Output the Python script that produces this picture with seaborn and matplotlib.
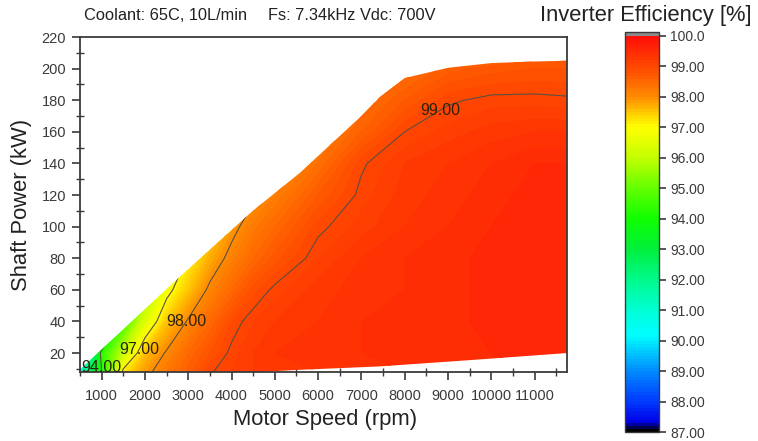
import numpy as np
import matplotlib
matplotlib.use("Agg")
import matplotlib.pyplot as plt
import seaborn as sns
from matplotlib.colors import LinearSegmentedColormap
from matplotlib.patches import Polygon
from matplotlib.ticker import MultipleLocator, FuncFormatter

sns.set_style("ticks")
plt.rcParams["font.family"] = ["Liberation Sans", "DejaVu Sans"]

# grid (rpm x kW), efficiency in %
speed_rpm = [500, 1000, 1500, 2000, 2500, 3000, 3500, 4000, 4500, 5000,
             6000, 7000, 8000, 9000, 10000, 11000, 11750]
power_kw = [8, 20, 40, 60, 80, 100, 120, 140, 160, 180, 200, 210]

eff_8kw = [91.0, 94.0, 97.2, 97.85, 98.3, 98.65, 98.98, 99.1, 99.2, 99.25,
           99.3, 99.35, 99.4, 99.4, 99.45, 99.5, 99.5]
eff_20kw = [89.0, 94.3, 96.0, 97.55, 98.05, 98.5, 98.8, 99.05, 99.2, 99.3,
            99.35, 99.4, 99.45, 99.45, 99.5, 99.55, 99.55]
eff_40kw = [85.0, 91.0, 94.5, 96.4, 97.5, 98.05, 98.5, 98.9, 99.1, 99.2,
            99.3, 99.4, 99.45, 99.45, 99.55, 99.6, 99.6]
eff_60kw = [80.0, 88.0, 92.5, 95.5, 96.8, 97.5, 98.1, 98.5, 98.85, 99.05,
            99.25, 99.35, 99.4, 99.45, 99.55, 99.6, 99.6]
eff_80kw = [75.0, 85.0, 90.0, 93.5, 95.8, 97.1, 97.7, 98.15, 98.5, 98.75,
            99.1, 99.3, 99.4, 99.45, 99.55, 99.6, 99.6]
eff_100kw = [70.0, 80.0, 87.0, 91.0, 94.0, 96.0, 97.2, 97.85, 98.25, 98.5,
             98.95, 99.15, 99.3, 99.4, 99.5, 99.6, 99.6]
eff_120kw = [65.0, 75.0, 82.0, 88.0, 91.0, 94.0, 96.0, 97.3, 97.9, 98.2,
             98.7, 99.05, 99.25, 99.35, 99.45, 99.55, 99.55]
eff_140kw = [60.0, 70.0, 78.0, 84.0, 88.0, 91.0, 94.0, 96.0, 97.3, 97.8,
             98.4, 98.97, 99.2, 99.3, 99.4, 99.5, 99.5]
eff_160kw = [55.0, 65.0, 73.0, 80.0, 85.0, 89.0, 92.0, 94.5, 96.5, 97.5,
             98.2, 98.6, 99.0, 99.15, 99.25, 99.3, 99.3]
eff_180kw = [50.0, 60.0, 68.0, 75.0, 80.0, 85.0, 89.0, 92.0, 94.5, 96.0,
             97.8, 98.4, 98.7, 98.97, 99.05, 99.05, 99.03]
eff_200kw = [45.0, 55.0, 63.0, 70.0, 76.0, 81.0, 85.0, 88.0, 91.0, 94.0,
             96.0, 97.5, 98.4, 98.65, 98.75, 98.8, 98.8]
eff_210kw = [40.0, 50.0, 58.0, 65.0, 71.0, 76.0, 80.0, 84.0, 87.0, 90.0,
             93.0, 95.5, 97.0, 98.2, 98.5, 98.6, 98.6]

# operating envelope (max / min torque curves)
upper_speed = [445, 2757, 4491, 5578, 7000, 7428, 8000, 9000, 10000, 11000, 11800]
upper_power = [8, 67, 110, 134, 170, 182, 194, 200.5, 203.5, 204.5, 205]
lower_speed = [11800, 11750, 9500, 7400, 5500, 4000, 445]
lower_power = [20.1, 20, 15.5, 11.5, 9.3, 7, 5]

line_levels = [94, 97, 98, 99]
cbar_ticks = [100, 99, 98, 97, 96, 95, 94, 93, 92, 91, 90, 89, 88, 87]

# Origin-like rainbow scale
cmap = LinearSegmentedColormap.from_list("origin", [
    (0.0, "#000000"),
    (0.3 / 13, "#0000e6"),
    (1.0 / 13, "#003cff"),
    (2.0 / 13, "#008cff"),
    (3.2 / 13, "#00ffff"),
    (4.0 / 13, "#00ffd2"),
    (5.0 / 13, "#00fa8c"),
    (6.0 / 13, "#00f03c"),
    (7.0 / 13, "#10ff00"),
    (8.0 / 13, "#64ff00"),
    (9.0 / 13, "#c0ff00"),
    (10.0 / 13, "#ffff00"),
    (10.5 / 13, "#ffc800"),
    (11.0 / 13, "#ff8c00"),
    (12.0 / 13, "#ff4800"),
    (1.0, "#ff1008"),
])
cmap.set_over("#8c8c8c")

X, Y = np.meshgrid(speed_rpm, power_kw)
Z = np.array([eff_8kw, eff_20kw, eff_40kw, eff_60kw, eff_80kw, eff_100kw,
              eff_120kw, eff_140kw, eff_160kw, eff_180kw, eff_200kw, eff_210kw])

fig = plt.figure(figsize=(7.58, 4.41), dpi=100)
ax = fig.add_axes([80 / 758, 1 - 372 / 441, 487 / 758, 335 / 441])

envelope = Polygon(
    list(zip(upper_speed, upper_power)) + list(zip(lower_speed, lower_power)),
    closed=True, transform=ax.transData, facecolor="none", edgecolor="none",
)

cs = ax.contourf(X, Y, Z, levels=np.linspace(87, 100, 131), cmap=cmap,
                 extend="max")
cs.set_clip_path(envelope)

lines = ax.contour(X, Y, Z, levels=line_levels, colors="#5a5040",
                   linewidths=0.8)
lines.set_clip_path(envelope)
labels = ax.clabel(lines, fmt="%.2f", inline=False, fontsize=11.5,
                   colors="#2e2208",
                   manual=[(950, 11), (1830, 23), (2940, 40), (8800, 174)])
for t in labels:
    t.set_rotation(0)

ax.set_xlim(500, 11750)
ax.set_ylim(8, 220)
ax.xaxis.set_major_locator(MultipleLocator(1000))
ax.xaxis.set_minor_locator(MultipleLocator(500))
ax.yaxis.set_major_locator(MultipleLocator(20))
ax.yaxis.set_minor_locator(MultipleLocator(10))
ax.tick_params(which="major", direction="out", length=6, width=1.2,
               color="#3a3a3a", labelsize=10.5, labelcolor="#3a3a3a", pad=4)
ax.tick_params(which="minor", direction="inout", length=6, width=1.0,
               color="#3a3a3a")
ax.tick_params(axis="x", which="major", pad=6)
for sp in ax.spines.values():
    sp.set_color("#3a3a3a")
    sp.set_linewidth(1.3)

ax.set_xlabel("Motor Speed (rpm)", fontsize=15.8, color="#222222")
ax.set_ylabel("Shaft Power (kW)", fontsize=15.8, color="#222222")
ax.xaxis.set_label_coords(0.503, -0.11)
ax.yaxis.set_label_coords(-0.098, 0.5)

fig.text(84 / 758, 1 - 15 / 441, "Coolant: 65C, 10L/min", fontsize=11.8,
         color="#222222", va="center", ha="left")
fig.text(268 / 758, 1 - 15 / 441, "Fs: 7.34kHz Vdc: 700V", fontsize=11.8,
         color="#222222", va="center", ha="left")
fig.text(540 / 758, 1 - 16 / 441, "Inverter Efficiency [%]", fontsize=15.8,
         color="#222222", va="center", ha="left")

cax = fig.add_axes([625 / 758, 1 - 432 / 441, 34 / 758, 400 / 441])
cbar = fig.colorbar(cs, cax=cax, extend="max", extendrect=True,
                    extendfrac=0.01, ticks=cbar_ticks)
cbar.ax.yaxis.set_major_formatter(
    FuncFormatter(lambda v, _: "100.0" if v >= 100 else f"{v:.2f}"))
cbar.ax.tick_params(length=5, width=1.2, color="#3a3a3a", labelsize=10,
                    labelcolor="#3a3a3a", pad=3)
cbar.ax.minorticks_off()
cbar.outline.set_edgecolor("#3a3a3a")
cbar.outline.set_linewidth(1.0)

fig.savefig("out.png", dpi=100)
